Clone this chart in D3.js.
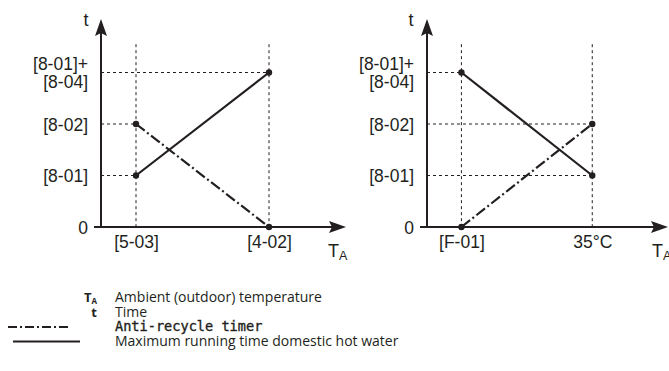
<!DOCTYPE html>
<html>
<head>
<meta charset="utf-8">
<script src="https://cdn.jsdelivr.net/npm/d3@7"></script>
<style>
  html, body { margin: 0; padding: 0; background: #fff; }
  svg { display: block; }
</style>
</head>
<body>
<svg id="chart" width="669" height="371"></svg>
<script>
// Time levels on the t axis (index = level)
const yLevels = [0, 1, 2, 3];
const yLabels = [["0"], ["[8-01]"], ["[8-02]"], ["[8-01]+", "[8-04]"]];

// Ambient temperature tick positions (abstract units along T_A)
const xTickValues = [1, 4.8];
const leftXLabels = ["[5-03]", "[4-02]"];
const rightXLabels = ["[F-01]", "35°C"];

// Series per panel: [x, level]
const leftAntiRecycle = [[1, 2], [4.8, 0]];
const leftMaxRunning = [[1, 1], [4.8, 3]];
const rightAntiRecycle = [[1, 0], [4.8, 2]];
const rightMaxRunning = [[1, 3], [4.8, 1]];

const legendItems = [
  { key: "T", sub: "A", text: "Ambient (outdoor) temperature" },
  { key: "t", sub: "", text: "Time" },
  { line: "dashdot", text: "Anti-recycle timer", mono: true },
  { line: "solid", text: "Maximum running time domestic hot water" }
];

const ink = "#231f20";
const labelFont = "Liberation Sans, Arial, sans-serif";
const svg = d3.select("#chart");

const y = d3.scaleLinear().domain([0, 4]).range([227, 21]);
const guideTop = 3.55;

function panel(x0, x1, xLabels, antiRecycle, maxRunning, tLabelX, taX) {
  const x = d3.scaleLinear().domain([0, 7]).range([x0, x1]);
  const g = svg.append("g");

  // dotted guides: vertical at each tick, horizontal to each point
  xTickValues.forEach(v => {
    g.append("line")
      .attr("x1", x(v)).attr("x2", x(v))
      .attr("y1", y(guideTop)).attr("y2", y(0))
      .attr("stroke", ink).attr("stroke-width", 1).attr("stroke-dasharray", "3,3");
  });
  antiRecycle.concat(maxRunning).filter(d => d[1] > 0).forEach(d => {
    g.append("line")
      .attr("x1", x(0)).attr("x2", x(d[0]))
      .attr("y1", y(d[1])).attr("y2", y(d[1]))
      .attr("stroke", ink).attr("stroke-width", 1).attr("stroke-dasharray", "3,3");
  });

  // t axis labels
  const ya = d3.axisLeft(y).tickValues(yLevels).tickSize(0).tickPadding(13)
    .tickFormat(() => "");
  const yg = g.append("g").attr("transform", `translate(${x(0)},0)`).call(ya);
  yg.select(".domain").remove();
  yg.selectAll(".tick text").each(function(d, i) {
    const lines = yLabels[i];
    const t = d3.select(this)
      .attr("font-family", labelFont)
      .attr("font-size", 17.5).attr("fill", ink).attr("dy", null);
    const start = lines.length === 1 ? 0.35 : -0.2;
    lines.forEach((s, k) => {
      t.append("tspan").attr("x", -13)
        .attr("dy", k === 0 ? (start + "em") : "1.05em").text(s);
    });
  });

  // T_A axis labels
  const xa = d3.axisBottom(x).tickValues(xTickValues).tickSize(0).tickPadding(9)
    .tickFormat((d, i) => xLabels[i]);
  const xg = g.append("g").attr("transform", `translate(0,${y(0)})`).call(xa);
  xg.select(".domain").remove();
  xg.selectAll(".tick text")
    .attr("font-family", labelFont)
    .attr("font-size", 17.5).attr("fill", ink);

  // axis lines with arrowheads
  g.append("line").attr("x1", x(0)).attr("x2", x(0))
    .attr("y1", y(0)).attr("y2", 30)
    .attr("stroke", ink).attr("stroke-width", 2);
  g.append("path")
    .attr("d", `M${x(0)},19 L${x(0) - 6},36 L${x(0)},33 L${x(0) + 6},36 Z`)
    .attr("fill", ink);
  g.append("line").attr("x1", x(0) - 7).attr("x2", x1 - 8)
    .attr("y1", y(0)).attr("y2", y(0))
    .attr("stroke", ink).attr("stroke-width", 2);
  g.append("path")
    .attr("d", `M${x1},${y(0)} L${x1 - 17},${y(0) - 6} L${x1 - 14},${y(0)} L${x1 - 17},${y(0) + 6} Z`)
    .attr("fill", ink);

  // axis titles
  g.append("text").attr("x", tLabelX).attr("y", 26)
    .attr("font-family", labelFont)
    .attr("font-size", 18).attr("fill", ink).attr("text-anchor", "middle").text("t");
  const ta = g.append("text").attr("x", taX).attr("y", 257)
    .attr("font-family", labelFont)
    .attr("font-size", 18).attr("fill", ink);
  ta.append("tspan").text("T");
  ta.append("tspan").attr("font-size", 12.5).attr("dy", 3).text("A");

  // series lines
  const line = d3.line().x(d => x(d[0])).y(d => y(d[1]));
  g.append("path").datum(antiRecycle).attr("d", line)
    .attr("fill", "none").attr("stroke", ink).attr("stroke-width", 2.2)
    .attr("stroke-dasharray", "11,3,2,3");
  g.append("path").datum(maxRunning).attr("d", line)
    .attr("fill", "none").attr("stroke", ink).attr("stroke-width", 2.2);
  g.selectAll("circle.pt").data(antiRecycle.concat(maxRunning)).enter()
    .append("circle").attr("class", "pt")
    .attr("cx", d => x(d[0])).attr("cy", d => y(d[1])).attr("r", 3.2)
    .attr("fill", ink);
}

panel(101, 346, leftXLabels, leftAntiRecycle, leftMaxRunning, 86, 328);
panel(427, 668, rightXLabels, rightAntiRecycle, rightMaxRunning, 411, 652);

// legend
const rowY = [302, 316.5, 331, 345.5];
const lg = svg.append("g");
legendItems.forEach((it, i) => {
  const yy = rowY[i];
  if (it.key) {
    const k = lg.append("text").attr("x", 97).attr("y", yy)
      .attr("text-anchor", "end")
      .attr("font-family", "Open Sans, sans-serif").attr("font-weight", "bold")
      .attr("font-size", 13).attr("fill", ink);
    k.append("tspan").text(it.key);
    if (it.sub) k.append("tspan").attr("font-size", 8).attr("dy", 2).text(it.sub);
  } else if (it.line === "dashdot") {
    lg.append("line").attr("x1", 8).attr("x2", 71).attr("y1", yy - 4).attr("y2", yy - 4)
      .attr("stroke", ink).attr("stroke-width", 2).attr("stroke-dasharray", "9,3,2,3");
  } else {
    lg.append("line").attr("x1", 13).attr("x2", 80).attr("y1", yy - 4).attr("y2", yy - 4)
      .attr("stroke", ink).attr("stroke-width", 2);
  }
  lg.append("text").attr("x", 115).attr("y", yy)
    .attr("font-family", it.mono ? "DejaVu Sans Mono, monospace" : "Open Sans, sans-serif")
    .attr("font-size", it.mono ? 13.6 : 14).attr("fill", ink)
    .attr("stroke", it.mono ? ink : "none").attr("stroke-width", it.mono ? 0.35 : 0)
    .text(it.text);
});
</script>
</body>
</html>
